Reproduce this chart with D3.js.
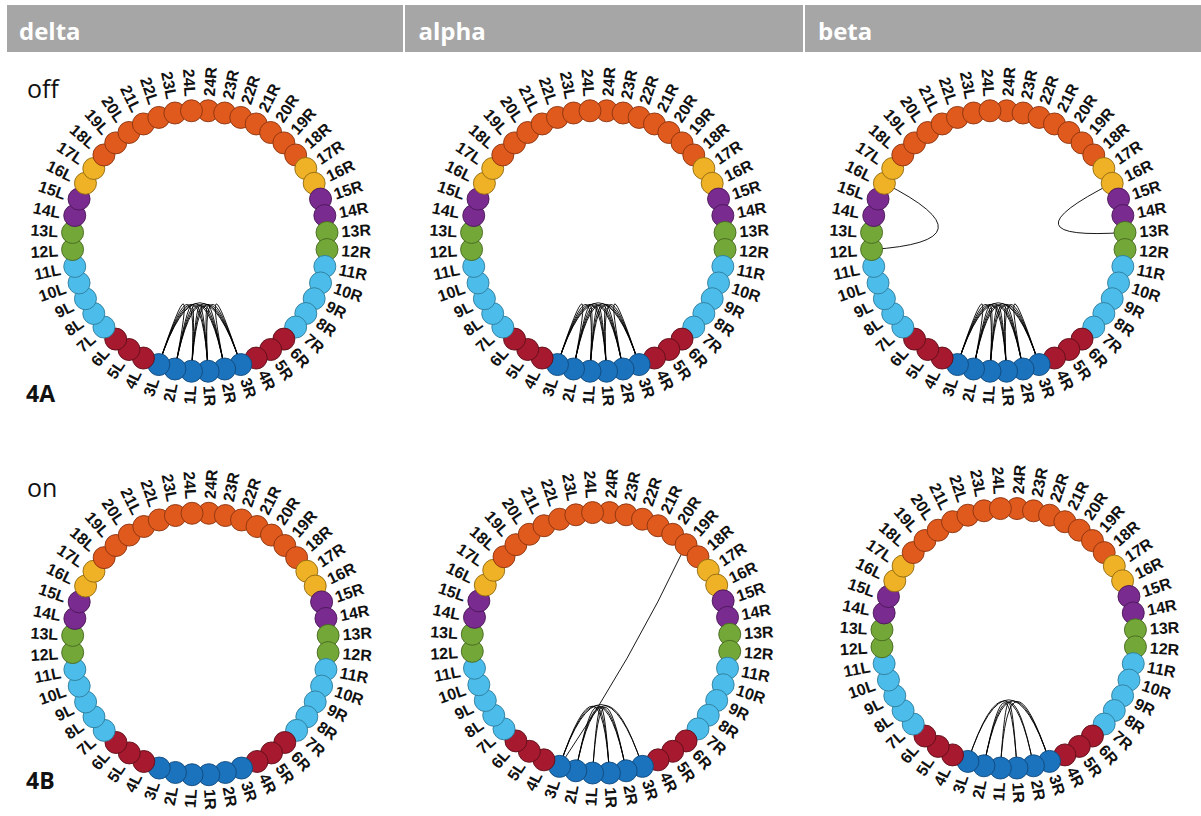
<!DOCTYPE html>
<html><head><meta charset="utf-8">
<script src="https://cdn.jsdelivr.net/npm/d3@7"></script>
<style>body{margin:0;background:#fff;}</style>
</head><body>
<svg id="chart" width="1201" height="816"></svg>
<script>
// ---------- data ----------
const bands = ["delta", "alpha", "beta"];
const states = ["off", "on"];
const figureTags = ["4A", "4B"];
const regionNumbers = [1,2,3,4,5,6,7,8,9,10,11,12,13,14,15,16,17,18,19,20,21,22,23,24];
const hemispheres = ["L", "R"];
const regionGroups = [[1,2,3],[4,5,6],[7,8,9,10,11],[12,13],[14,15],[16,17],[18,19,20,21,22,23,24]];

const edgesDeltaOff = [
  ["3L","2L"],["3L","1L"],["3L","1R"],["3L","2R"],["3L","3R"],
  ["2L","1L"],["2L","1R"],["2L","2R"],["2L","3R"],
  ["1L","1R"],["1L","2R"],["1L","3R"],
  ["1R","2R"],["1R","3R"],["2R","3R"]
];
const edgesAlphaOff = [
  ["3L","2L"],["3L","1L"],["3L","1R"],["3L","2R"],["3L","3R"],
  ["2L","1L"],["2L","1R"],["2L","2R"],["2L","3R"],
  ["1L","1R"],["1L","2R"],["1L","3R"],
  ["1R","2R"],["1R","3R"],["2R","3R"]
];
const edgesBetaOff = [
  ["3L","2L"],["3L","1L"],["3L","1R"],["3L","2R"],["3L","3R"],
  ["2L","1L"],["2L","1R"],["2L","2R"],["2L","3R"],
  ["1L","1R"],["1L","2R"],["1L","3R"],
  ["1R","2R"],["1R","3R"],["2R","3R"],
  ["16L","12L"],["16R","13R"]
];
const edgesDeltaOn = [];
const edgesAlphaOn = [
  ["3L","3R"],["3L","2R"],["3L","1R"],["2L","2R"],["2L","3R"],
  ["2L","1R"],["1L","1R"],["1L","2R"],["19R","3L"]
];
const edgesBetaOn = [
  ["3L","3R"],["3L","2R"],["2L","2R"],["2L","1R"],["1L","1R"],["1L","3R"],["2L","3R"]
];

// ---------- styles / layout ----------
const groupColors = ["#1b72bd","#a6192e","#4cbdea","#73a839","#7a2b8f","#efb126","#e0591d"];
const groupStroke = ["#114a7c","#5e0e1a","#2f7c9a","#46661f","#4a1757","#8f6a12","#8a3410"];
const panels = [
  {band:0, state:0, cx:199.8, cy:241,   rx:127.5, ry:130.5, edges:edgesDeltaOff},
  {band:1, state:0, cx:598.3, cy:241,   rx:127,   ry:130.5, edges:edgesAlphaOff},
  {band:2, state:0, cx:998.3, cy:241,   rx:127,   ry:130.5, edges:edgesBetaOff},
  {band:0, state:1, cx:200.4, cy:644,   rx:128,   ry:131,   edges:edgesDeltaOn},
  {band:1, state:1, cx:601,   cy:642.8, rx:129,   ry:130.5, edges:edgesAlphaOn},
  {band:2, state:1, cx:1008.7,cy:638.3, rx:127,   ry:130,   edges:edgesBetaOn}
];

const svg = d3.select("#chart");

// header bar
svg.append("rect").attr("x",7).attr("y",5).attr("width",1194).attr("height",47).attr("fill","#a6a6a6");
[404, 804].forEach(x => svg.append("rect").attr("x",x-1).attr("y",5).attr("width",2).attr("height",47).attr("fill","#ffffff"));
const headerX = d3.scalePoint().domain(bands).range([19, 818]);
svg.selectAll("text.band").data(bands).join("text")
  .attr("class","band")
  .attr("x", d => headerX(d)).attr("y", 40)
  .attr("fill","#ffffff")
  .style("font-family","'Open Sans', sans-serif").style("font-weight","700").style("font-size","24px")
  .text(d => d);

// row labels
const rowY = d3.scaleOrdinal().domain(states).range([98, 497]);
svg.selectAll("text.state").data(states).join("text")
  .attr("class","state").attr("x", 27).attr("y", d => rowY(d))
  .attr("fill","#111")
  .style("font-family","'Open Sans', sans-serif").style("font-size","25px")
  .text(d => d);
const tagY = d3.scaleOrdinal().domain(figureTags).range([402, 789]);
svg.selectAll("text.tag").data(figureTags).join("text")
  .attr("class","tag").attr("x", 26).attr("y", d => tagY(d))
  .attr("fill","#111")
  .style("font-family","'Open Sans', sans-serif").style("font-weight","700").style("font-size","23px")
  .text(d => d);

// node order clockwise from the top: 24R ... 1R, 1L ... 24L
const order = regionNumbers.slice().reverse().map(n => n + "R").concat(regionNumbers.map(n => n + "L"));
const angle = d3.scaleBand().domain(order).range([0, 360]);
const ang = id => angle(id) + angle.bandwidth() / 2;
const groupIndex = n => regionGroups.findIndex(g => g.includes(n));

const nodes = order.map(id => ({id, num: parseInt(id), side: id.slice(-1)}));
const NODE_R = 11;

panels.forEach(p => {
  const g = svg.append("g");
  const pos = id => {
    const a = ang(id) * Math.PI / 180;
    return [p.cx + p.rx * Math.sin(a), p.cy - p.ry * Math.cos(a)];
  };
  // edges
  g.selectAll("path.edge").data(p.edges).join("path")
    .attr("class","edge")
    .attr("fill","none").attr("stroke","#000").attr("stroke-width",1).attr("stroke-opacity",0.9)
    .attr("d", e => {
      const A = pos(e[0]), B = pos(e[1]);
      let sep = Math.abs(ang(e[0]) - ang(e[1]));
      if (sep > 180) sep = 360 - sep;
      let C = [p.cx, p.cy];
      if (sep > 120) {
        const mx = (A[0] + B[0]) / 2, my = (A[1] + B[1]) / 2;
        C = [mx + (mx - p.cx) * 0.4, my + (my - p.cy) * 0.4];
      }
      return `M${A[0]},${A[1]}Q${C[0]},${C[1]} ${B[0]},${B[1]}`;
    });
  // nodes
  g.selectAll("circle.node").data(nodes).join("circle")
    .attr("class","node")
    .attr("cx", d => pos(d.id)[0]).attr("cy", d => pos(d.id)[1])
    .attr("r", NODE_R)
    .attr("fill", d => groupColors[groupIndex(d.num)])
    .attr("stroke", d => groupStroke[groupIndex(d.num)])
    .attr("stroke-width", 0.9);
  // labels
  g.selectAll("text.lab").data(nodes).join("text")
    .attr("class","lab")
    .attr("transform", d => {
      const a = ang(d.id);
      const r = a * Math.PI / 180;
      const off = NODE_R + 3.5;
      const x = p.cx + (p.rx + off) * Math.sin(r), y = p.cy - (p.ry + off) * Math.cos(r);
      const rot = a < 180 ? a - 90 : a + 90;
      return `translate(${x},${y}) rotate(${rot})`;
    })
    .attr("text-anchor", d => ang(d.id) < 180 ? "start" : "end")
    .attr("dy", "0.36em")
    .attr("fill","#111")
    .style("font-family","'Liberation Sans', Arial, sans-serif").style("font-weight","700").style("font-size","16px")
    .text(d => d.id);
});
</script>
</body></html>
